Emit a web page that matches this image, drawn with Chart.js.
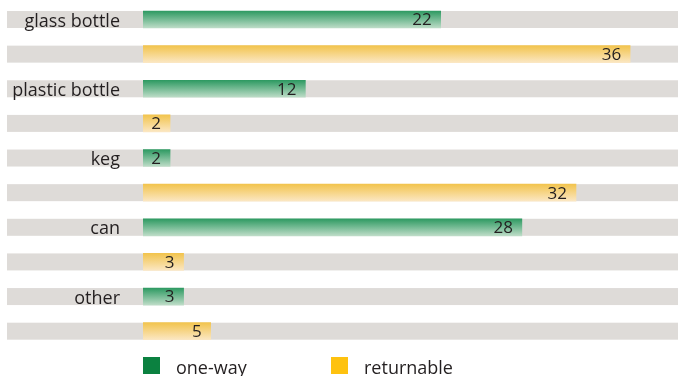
<!DOCTYPE html>
<html>
<head>
<meta charset="utf-8">
<script src="https://cdn.jsdelivr.net/npm/chart.js@4"></script>
<style>
  html, body { margin: 0; padding: 0; background: #fff; }
  #wrap { width: 678px; height: 376px; position: relative; }
</style>
</head>
<body>
<div id="wrap"><canvas id="barChart"></canvas></div>
<script>
const categories = ['glass bottle', 'plastic bottle', 'keg', 'can', 'other'];
const oneWay = [22, 12, 2, 28, 3];
const returnable = [36, 2, 32, 3, 5];
const seriesNames = ['one-way', 'returnable'];

// each category gets two rows: one-way on top, returnable below
const rowLabels = [];
const oneWayRows = [];
const returnableRows = [];
categories.forEach((c, i) => {
    rowLabels.push(c, '');
    oneWayRows.push(oneWay[i], null);
    returnableRows.push(null, returnable[i]);
});

const BAR_H = 17;
const FONT = '"Open Sans", sans-serif';

function barGradient(top, bottom) {
    return (context) => {
        const chart = context.chart;
        const yScale = chart.scales.y;
        if (!chart.chartArea || !yScale) return top;
        const y = yScale.getPixelForValue(context.dataIndex);
        const g = chart.ctx.createLinearGradient(0, y - BAR_H / 2, 0, y + BAR_H / 2);
        g.addColorStop(0, top);
        g.addColorStop(1, bottom);
        return g;
    };
}

// grey bands behind every row
const bands = {
    id: 'bands',
    beforeDraw(chart) {
        const {ctx, chartArea, scales: {y}} = chart;
        ctx.save();
        ctx.fillStyle = '#dedbd8';
        rowLabels.forEach((l, i) => {
            const py = y.getPixelForValue(i);
            ctx.fillRect(7, py - BAR_H / 2, chartArea.right - 7, BAR_H);
        });
        ctx.restore();
    }
};

// value written at the end of each bar
const valueLabels = {
    id: 'valueLabels',
    afterDatasetsDraw(chart) {
        const ctx = chart.ctx;
        ctx.save();
        ctx.font = '17px ' + FONT;
        ctx.fillStyle = '#231f20';
        ctx.textAlign = 'right';
        ctx.textBaseline = 'middle';
        chart.data.datasets.forEach((ds, di) => {
            chart.getDatasetMeta(di).data.forEach((bar, i) => {
                if (ds.data[i] == null) return;
                ctx.fillText(ds.data[i], bar.x - 9, bar.y + 1);
            });
        });
        ctx.restore();
    }
};

// legend squares under the chart
const legendBoxes = {
    id: 'legendBoxes',
    afterDraw(chart) {
        const ctx = chart.ctx;
        const x0 = chart.chartArea.left;
        ctx.save();
        ctx.font = '18px ' + FONT;
        ctx.textBaseline = 'alphabetic';
        chart.data.datasets.forEach((ds, i) => {
            const x = x0 + i * 188;
            ctx.fillStyle = ds.legendColor;
            ctx.fillRect(x, 357, 17, 17);
            ctx.fillStyle = '#231f20';
            ctx.fillText(ds.label, x + 33, 374);
        });
        ctx.restore();
    }
};

const ctx = document.getElementById('barChart').getContext('2d');
const barChart = new Chart(ctx, {
    type: 'bar',
    data: {
        labels: rowLabels,
        datasets: [{
            label: seriesNames[0],
            data: oneWayRows,
            backgroundColor: barGradient('#2e9a62', '#bddcc7'),
            legendColor: '#0b8140',
            barThickness: BAR_H,
            grouped: false,
        }, {
            label: seriesNames[1],
            data: returnableRows,
            backgroundColor: barGradient('#f2c44e', '#fbe7c3'),
            legendColor: '#fec20f',
            barThickness: BAR_H,
            grouped: false,
        }],
    },
    options: {
        indexAxis: 'y',
        responsive: true,
        maintainAspectRatio: false,
        animation: false,
        layout: { padding: { top: 2.2, bottom: 27.5, left: 0, right: 0 } },
        plugins: {
            legend: { display: false },
            tooltip: { enabled: false },
        },
        scales: {
            x: {
                display: false,
                min: 0,
                max: 39.54,
            },
            y: {
                grid: { display: false, drawTicks: false },
                border: { display: false },
                ticks: {
                    autoSkip: false,
                    padding: 23,
                    labelOffset: 2,
                    color: '#231f20',
                    font: { family: '"Open Sans", sans-serif', size: 18 },
                },
                afterFit(scale) {
                    scale.width = 143;
                    scale.paddingTop = 0;
                    scale.paddingBottom = 0;
                },
            },
        },
    },
    plugins: [bands, valueLabels, legendBoxes],
});
</script>
</body>
</html>
